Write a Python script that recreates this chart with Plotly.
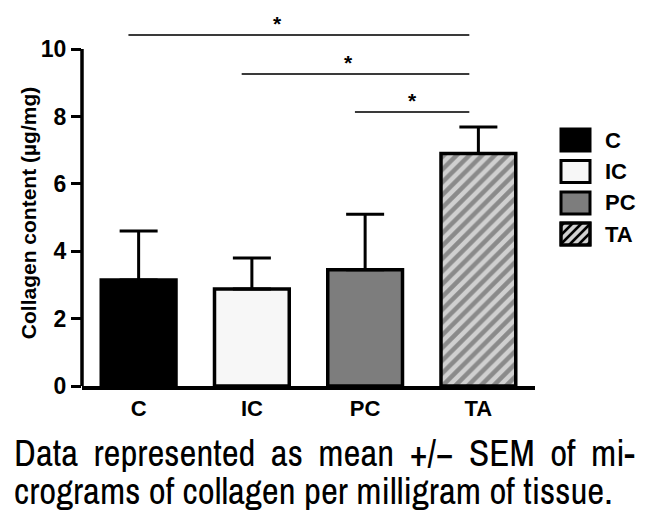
import plotly.graph_objects as go

# ---------------- data ----------------
categories = ["C", "IC", "PC", "TA"]
means = [3.15, 2.88, 3.45, 6.90]
sem = [1.45, 0.92, 1.65, 0.79]
y_tickvals = [0, 2, 4, 6, 8, 10]
sig_from = ["C", "IC", "PC"]
sig_to = ["TA", "TA", "TA"]
sig_heights = [10.42, 9.26, 8.13]
sig_labels = ["*", "*", "*"]
caption_lines = [
    "Data represented as mean +/\u2212 SEM of mi-",
    "crograms of collagen per milligram of tissue.",
]

# ---------------- styles / layout ----------------
bar_colors = ["#000000", "#f7f7f7", "#7d7d7d", "#d0d0d0"]
bar_patterns = ["", "", "", "/"]
star_x = [1.23, 1.85, 2.42]
OFF = 8                      # page body margin of the browser
W, H = 650 - OFF, 530 - OFF
ML, MR, MT, MB = 74, 115, 0, 144
YMAX = 11.22
BOLD = "Liberation Sans, Arial, sans-serif"
NARROW = "Archivo Narrow, Liberation Sans, sans-serif"

pw = W - ML - MR
ph = H - MT - MB


def px_x(px):  # reference-picture pixel -> paper
    return (px - OFF - ML) / pw


def px_y(py):
    return (H - MB - (py - OFF)) / ph


fig = go.Figure()
fig.add_trace(go.Bar(
    x=categories, y=means, width=0.66,
    marker=dict(
        color=bar_colors,
        line=dict(color="black", width=3.5),
        pattern=dict(shape=bar_patterns, fgcolor="black", size=9, solidity=0.5, fillmode="overlay"),
    ),
    error_y=dict(type="data", array=sem, arrayminus=[0] * len(sem), symmetric=False,
                 color="black", thickness=3, width=19),
    showlegend=False,
))

shapes = []
annotations = []

# y-axis line (0..10)
shapes.append(dict(type="line", xref="paper", yref="y", x0=0, x1=0, y0=0, y1=max(y_tickvals),
                   line=dict(color="black", width=3.5)))

# significance brackets
for f, t, h, lab, sx in zip(sig_from, sig_to, sig_heights, sig_labels, star_x):
    i0 = categories.index(f) - 0.09
    i1 = categories.index(t) - 0.08
    shapes.append(dict(type="line", xref="x", yref="y", x0=i0, x1=i1, y0=h, y1=h,
                       line=dict(color="#3a3a3a", width=2)))
    annotations.append(dict(x=sx, y=h, xref="x", yref="y", text=lab, showarrow=False,
                            xanchor="center", yanchor="bottom", yshift=-2,
                            font=dict(family=BOLD, size=21, color="black", weight="bold")))

# custom legend
leg_rows = [140, 171.5, 203, 234]
bx0, bx1, bh = 561, 590, 22
for cat, col, pat, cy in zip(categories, bar_colors, bar_patterns, leg_rows):
    y0p, y1p = cy + bh / 2, cy - bh / 2
    shapes.append(dict(type="rect", xref="paper", yref="paper",
                       x0=px_x(bx0), x1=px_x(bx1), y0=px_y(y0p), y1=px_y(y1p),
                       fillcolor=col, line=dict(color="black", width=3)))
    if pat == "/":
        step = 9
        c = bx0 + y1p + 3
        while c < bx1 + y0p:
            pts = []
            for xx in (bx0, bx1):
                yy = c - xx
                if y1p <= yy <= y0p:
                    pts.append((xx, yy))
            for yy in (y1p, y0p):
                xx = c - yy
                if bx0 <= xx <= bx1:
                    pts.append((xx, yy))
            if len(pts) >= 2:
                (ax_, ay_), (bx_, by_) = pts[0], pts[-1]
                shapes.append(dict(type="line", xref="paper", yref="paper",
                                   x0=px_x(ax_), y0=px_y(ay_), x1=px_x(bx_), y1=px_y(by_),
                                   line=dict(color="black", width=2.5)))
            c += step
        shapes.append(dict(type="rect", xref="paper", yref="paper",
                           x0=px_x(bx0), x1=px_x(bx1), y0=px_y(y0p), y1=px_y(y1p),
                           line=dict(color="black", width=3)))
    annotations.append(dict(x=px_x(603), y=px_y(cy), xref="paper", yref="paper", text=cat,
                            showarrow=False, xanchor="left", yanchor="middle",
                            font=dict(family=BOLD, size=22, color="black", weight="bold")))

# y-axis title
annotations.append(dict(x=px_x(28), y=5.13, xref="paper", yref="y",
                        text="Collagen content (\u00b5g/mg)", textangle=-90, showarrow=False,
                        xanchor="center", yanchor="middle",
                        font=dict(family=BOLD, size=21, color="black", weight="bold")))

# caption (first line justified with wider word spacing)
cap_texts = ['<span style="word-spacing:7px">' + caption_lines[0] + '</span>', caption_lines[1]]
for line, cy in zip(cap_texts, [453, 491]):
    annotations.append(dict(x=px_x(12), y=px_y(cy), xref="paper", yref="paper", text=line,
                            showarrow=False, xanchor="left", yanchor="middle",
                            font=dict(family=NARROW, size=37, color="black")))

fig.update_layout(
    width=W, height=H,
    margin=dict(l=ML, r=MR, t=MT, b=MB, pad=0),
    plot_bgcolor="white", paper_bgcolor="white",
    shapes=shapes, annotations=annotations,
    xaxis=dict(range=[-0.5, 3.5], showline=True, linecolor="black", linewidth=3.5,
               ticks="", showgrid=False, zeroline=False,
               tickfont=dict(family=BOLD, size=22, color="black", weight="bold")),
    yaxis=dict(range=[0, YMAX], tickvals=y_tickvals, ticks="outside", ticklen=10, tickwidth=3,
               tickcolor="black", showline=False, showgrid=False, zeroline=False,
               tickfont=dict(family=BOLD, size=23, color="black", weight="bold")),
)

fig.write_html("out.html")
